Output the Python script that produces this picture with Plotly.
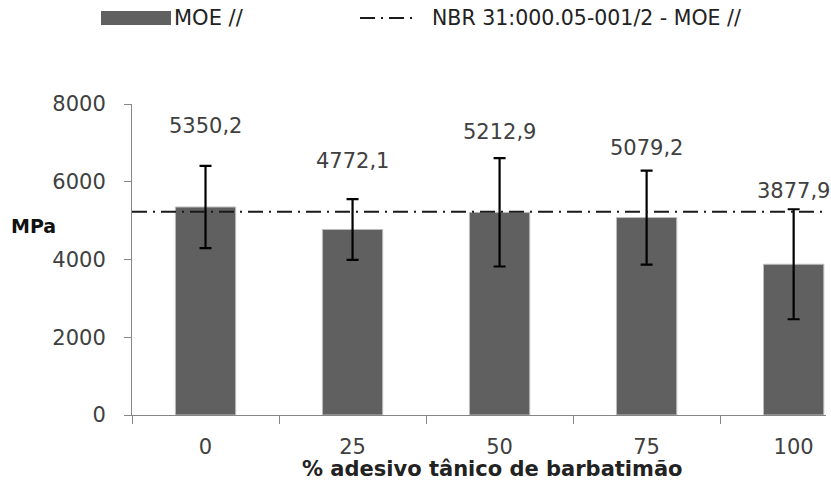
import plotly.graph_objects as go

categories = ["0", "25", "50", "75", "100"]
moe_values = [5350.2, 4772.1, 5212.9, 5079.2, 3877.9]
moe_errors = [1059, 780, 1393, 1209, 1415]
nbr_reference = 5230
y_ticks = [0, 2000, 4000, 6000, 8000]

FONT = "DejaVu Sans"
TXT = "#404040"
BAR = "#606060"

fig = go.Figure()
fig.add_trace(go.Bar(
    x=categories, y=moe_values, name="MOE //", showlegend=False,
    marker=dict(color=BAR, line=dict(color="#bdbdbd", width=1)),
    error_y=dict(type="data", array=moe_errors, visible=True,
                 color="black", thickness=2.2, width=6),
))

# reference line (standard value)
fig.add_shape(type="line", xref="paper", yref="y", x0=0, x1=1,
              y0=nbr_reference, y1=nbr_reference,
              line=dict(color="#1a1a1a", width=2, dash="15px,6px,2px,6px"))

# value labels
label_shift = [81, 68, 80, 70, 73]
for i, (v, s) in enumerate(zip(moe_values, label_shift)):
    fig.add_annotation(x=i, y=v, yshift=s, text=f"{v:.1f}".replace(".", ","),
                       showarrow=False, font=dict(family=FONT, size=21, color=TXT),
                       xanchor="center", yanchor="middle")

# manual legend
fig.add_shape(type="rect", xref="paper", yref="paper",
              x0=(101 - 132) / 694, x1=(171 - 132) / 694,
              y0=(415 - 25) / 311, y1=(415 - 11) / 311,
              fillcolor=BAR, line=dict(width=0))
fig.add_annotation(xref="paper", yref="paper", x=(172 - 132) / 694, y=(415 - 18) / 311,
                   text="MOE //", showarrow=False, xanchor="left", yanchor="middle",
                   font=dict(family=FONT, size=21, color="#222"))
fig.add_shape(type="line", xref="paper", yref="paper",
              x0=(360 - 132) / 694, x1=(418 - 132) / 694,
              y0=(415 - 18) / 311, y1=(415 - 18) / 311,
              line=dict(color="#1a1a1a", width=2, dash="15px,6px,2px,6px"))
fig.add_annotation(xref="paper", yref="paper", x=(430 - 132) / 694, y=(415 - 18) / 311,
                   text="NBR 31:000.05-001/2 - MOE //", showarrow=False,
                   xanchor="left", yanchor="middle",
                   font=dict(family=FONT, size=20.5, color="#222"))

# axis titles
fig.add_annotation(xref="paper", yref="paper", x=0, xshift=-74, y=(415 - 226) / 311,
                   text="<b>MPa</b>", showarrow=False, xanchor="right", yanchor="middle",
                   font=dict(family=FONT, size=19, color="#111"))
fig.add_annotation(xref="paper", yref="paper", x=(492 - 132) / 694, y=-(469 - 415) / 311,
                   text="<b>% adesivo tânico de barbatimão</b>", showarrow=False,
                   xanchor="center", yanchor="middle",
                   font=dict(family=FONT, size=21, color="#222"))

fig.update_layout(
    width=831, height=484,
    margin=dict(l=132, r=5, t=104, b=69),
    paper_bgcolor="white", plot_bgcolor="white",
    bargap=0.59,
    font=dict(family=FONT, size=21, color=TXT),
)
fig.update_xaxes(
    type="category", range=[-0.5, 4.22], tickson="boundaries",
    ticks="outside", ticklen=8, tickcolor="#868686",
    showline=True, linecolor="#868686", linewidth=1,
    showgrid=False, zeroline=False, ticklabelstandoff=13,
    tickfont=dict(family=FONT, size=21, color=TXT),
)
fig.update_yaxes(
    range=[0, 8000], tickvals=y_ticks, ticks="outside", ticklen=7,
    tickcolor="#868686", showline=True, linecolor="#868686", linewidth=1,
    showgrid=False, zeroline=False, ticklabelstandoff=14,
    tickfont=dict(family=FONT, size=21, color=TXT),
)

fig.write_html("out.html")
